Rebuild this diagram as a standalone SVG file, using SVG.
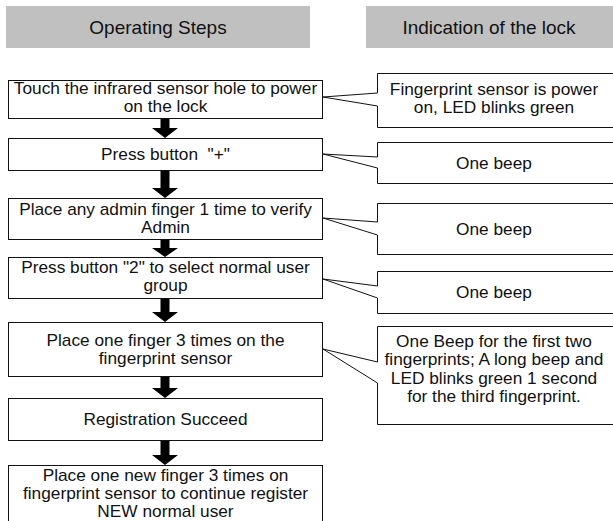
<svg xmlns="http://www.w3.org/2000/svg" width="613" height="521" viewBox="0 0 613 521">
<style>
text{font-family:"Liberation Sans",Arial,sans-serif;fill:#111;text-anchor:middle}
.t{font-size:16px}
.h{font-size:19px}
.hdr{fill:#c0c0c0;stroke:none}
.box{fill:#fff;stroke:#111;stroke-width:1}
.arr{fill:#000;stroke:none}
</style>
<rect width="613" height="521" fill="#fff"/>
<g id="header-steps"><rect class="hdr" x="6" y="6" width="304" height="42"/><text class="h" x="158" y="34">Operating Steps</text></g>
<g id="header-indication"><rect class="hdr" x="366" y="6" width="250" height="42"/><text class="h" x="489" y="34">Indication of the lock</text></g>

<g id="step1"><rect class="box" x="8.5" y="80.5" width="314" height="38"/><g transform="translate(165.5 0) scale(1.08 1)"><text class="t" x="0" y="94">Touch the infrared sensor hole to power</text><text class="t" x="0" y="112">on the lock</text></g></g>
<g id="step2"><rect class="box" x="8.5" y="138.5" width="314" height="32"/><g transform="translate(165.5 0) scale(1.08 1)"><text class="t" x="0" y="160">Press button &#160;"+"</text></g></g>
<g id="step3"><rect class="box" x="8.5" y="198.5" width="314" height="41"/><g transform="translate(165.5 0) scale(1.08 1)"><text class="t" x="0" y="215.5">Place any admin finger 1 time to verify</text><text class="t" x="0" y="233.5">Admin</text></g></g>
<g id="step4"><rect class="box" x="8.5" y="257.5" width="314" height="41"/><g transform="translate(165.5 0) scale(1.08 1)"><text class="t" x="0" y="273">Press button "2" to select normal user</text><text class="t" x="0" y="291">group</text></g></g>
<g id="step5"><rect class="box" x="8.5" y="322.5" width="314" height="54"/><g transform="translate(165.5 0) scale(1.08 1)"><text class="t" x="0" y="346">Place one finger 3 times on the</text><text class="t" x="0" y="364">fingerprint sensor</text></g></g>
<g id="step6"><rect class="box" x="8.5" y="398.5" width="314" height="42"/><g transform="translate(165.5 0) scale(1.08 1)"><text class="t" x="0" y="425">Registration Succeed</text></g></g>
<g id="step7"><rect class="box" x="8.5" y="465.5" width="314" height="70"/><g transform="translate(165.5 0) scale(1.08 1)"><text class="t" x="0" y="481.5">Place one new finger 3 times on</text><text class="t" x="0" y="499.5">fingerprint sensor to continue register</text><text class="t" x="0" y="517.5">NEW normal user</text></g></g>

<g id="indication1"><path class="box" d="M616,73.5 H377.5 V93 L323,97 L377.5,106 V127.5 H616"/><g transform="translate(494 0) scale(1.08 1)"><text class="t" x="0" y="95">Fingerprint sensor is power</text><text class="t" x="0" y="113">on, LED blinks green</text></g></g>
<g id="indication2"><path class="box" d="M616,142.5 H377.5 V157 L323,154 L377.5,168 V183.5 H616"/><g transform="translate(494 0) scale(1.08 1)"><text class="t" x="0" y="169">One beep</text></g></g>
<g id="indication3"><path class="box" d="M616,203.5 H377.5 V222 L323,218 L377.5,235 V254.5 H616"/><g transform="translate(494 0) scale(1.08 1)"><text class="t" x="0" y="235">One beep</text></g></g>
<g id="indication4"><path class="box" d="M616,271.5 H377.5 V286 L323,279 L377.5,298 V313.5 H616"/><g transform="translate(494 0) scale(1.08 1)"><text class="t" x="0" y="298">One beep</text></g></g>
<g id="indication5"><path class="box" d="M616,326.5 H377.5 V362 L323,349 L377.5,383 V424.5 H616"/><g transform="translate(494 0) scale(1.08 1)"><text class="t" x="0" y="347">One Beep for the first two</text><text class="t" x="0" y="365.5">fingerprints; A long beep and</text><text class="t" x="0" y="384">LED blinks green 1 second</text><text class="t" x="0" y="402.5">for the third fingerprint.</text></g></g>

<g id="connectors">
<path class="arr" d="M160.5,119 H169.5 V128 H178 L165,138 L152,128 H160.5 Z"/>
<path class="arr" d="M160.5,171 H169.5 V188 H178 L165,198 L152,188 H160.5 Z"/>
<path class="arr" d="M160.5,240 H169.5 V248 H178 L165,257 L152,248 H160.5 Z"/>
<path class="arr" d="M160.5,299 H169.5 V312 H178 L165,322 L152,312 H160.5 Z"/>
<path class="arr" d="M160.5,377 H169.5 V388 H178 L165,398 L152,388 H160.5 Z"/>
<path class="arr" d="M160.5,441 H169.5 V455 H178 L165,465 L152,455 H160.5 Z"/>
</g>
</svg>
